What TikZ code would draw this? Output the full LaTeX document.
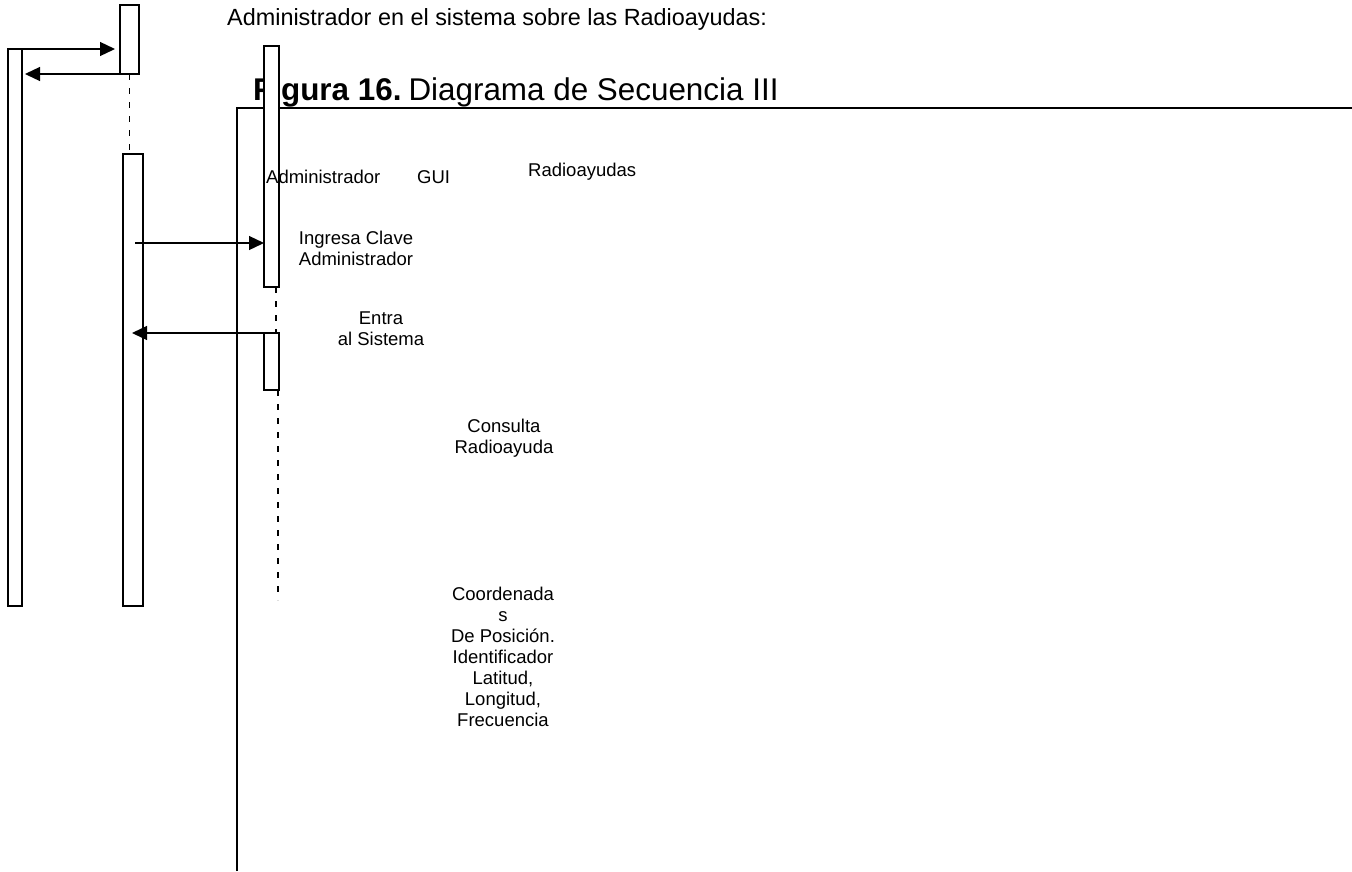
\documentclass[tikz,border=0pt]{standalone}
\usepackage{fontspec}
\setmainfont{Liberation Sans}
\usetikzlibrary{arrows.meta,calc}

% centred label stacked over several lines; its baseline is that of the first line
\newcommand{\stackedlabel}[1]{\begin{tabular}[t]{@{}c@{}}#1\end{tabular}}

\tikzset{
  actbox/.style={draw, fill=white, line width=1.3pt, inner sep=0pt, outer sep=0pt, anchor=north west},
  lifeline/.style={line width=1.3pt, dash pattern=on 6pt off 8pt},
  msg/.style={line width=1.3pt, -{Triangle[length=15pt,width=14pt]}},
  lbl/.style={inner sep=0pt, font=\fontsize{18.5}{21}\selectfont},
  frameline/.style={line width=1.7pt}
}

\begin{document}
\begin{tikzpicture}[x=1pt,y=-1pt]
\useasboundingbox (0,0) rectangle (1352,871);

% running text and caption
\node[inner sep=0pt, anchor=base west, font=\fontsize{23.4}{28}\selectfont] (head) at (227,25)
  {Administrador en el sistema sobre las Radioayudas:};
\node[inner sep=0pt, anchor=base west, font=\fontsize{31.4}{35}\selectfont] (caption) at (253,100)
  {\textbf{Figura 16.}\hspace{7pt}Diagrama de Secuencia III};

% frame of the figure
\draw[frameline] (237,871) -- (237,108) -- (1352,108);

% activation boxes
\node[actbox, minimum width=19pt, minimum height=69pt]  (A) at (120,5) {};
\node[actbox, minimum width=14pt, minimum height=557pt] (B) at (8,49) {};
\node[actbox, minimum width=20pt, minimum height=452pt] (C) at (123,154) {};
\node[actbox, minimum width=15pt, minimum height=241pt] (D) at (264,46) {};
\node[actbox, minimum width=15pt, minimum height=57pt]  (E) at (264,333) {};

% lifelines
\draw[lifeline] (A.south) -- (A.south |- C.north);
\draw[lifeline] ($(D.south east)+(-3,0)$) -- ($(E.north east)+(-3,0)$);
\draw[lifeline] ($(E.south east)+(-1,0)$) -- ++(0,210);

% messages
\draw[msg, shorten >=5pt] (B.north east) -- (A.west |- B.north east);
\draw[msg, shorten >=3pt] (A.south west) -- (B.east |- A.south west);
\coordinate (m3) at (135,243);
\draw[msg] (m3) -- (m3 -| D.west);
\coordinate (m4) at (276,333);
\draw[msg] (m4) -- ($(m4 -| C.center)+(-1,0)$);

% participant names
\node[lbl, anchor=base west] (nAdmin) at (266,183) {Administrador};
\node[lbl, anchor=base west] (nGUI)   at (417,183) {GUI};
\node[lbl, anchor=base west] (nRadio) at (528,176) {Radioayudas};

% message labels
\node[lbl, anchor=base] (l1) at (356,244) {\stackedlabel{Ingresa Clave\\Administrador}};
\node[lbl, anchor=base] (l2) at (381,324) {\stackedlabel{Entra\\al Sistema}};
\node[lbl, anchor=base] (l3) at (504,432) {\stackedlabel{Consulta\\Radioayuda}};
\node[lbl, anchor=base] (l4) at (503,600) {\stackedlabel{Coordenada\\s\\De Posición.\\Identificador\\Latitud,\\Longitud,\\Frecuencia}};
\end{tikzpicture}
\end{document}
